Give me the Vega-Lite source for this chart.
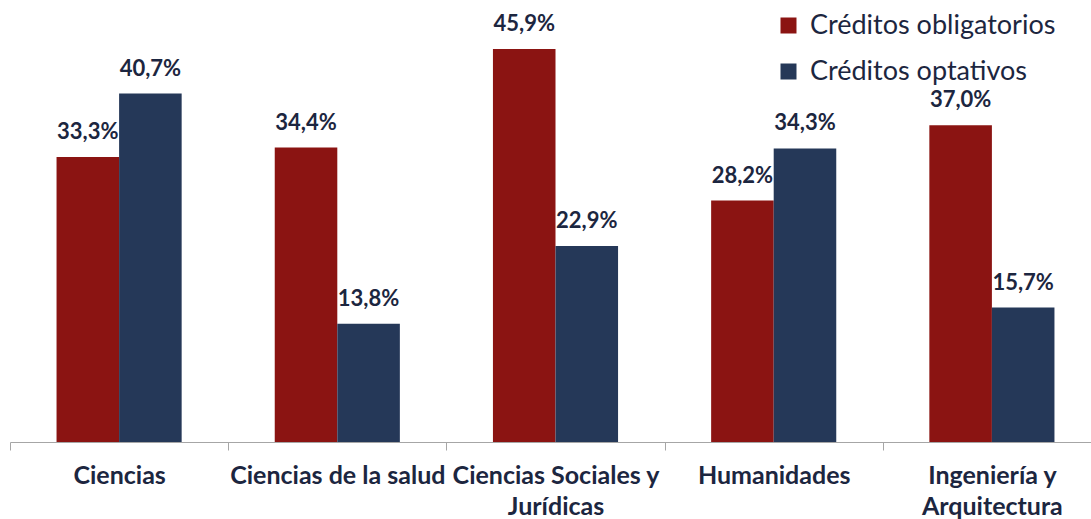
{
  "$schema": "https://vega.github.io/schema/vega-lite/v6.json",
  "width": 1081,
  "height": 428,
  "autosize": "none",
  "padding": {"left": 10, "top": 14, "right": 0, "bottom": 77},
  "background": "white",
  "config": {
    "locale": {"number": {"decimal": ",", "thousands": ".", "grouping": [3], "currency": ["", " €"]}},
    "view": {"stroke": null},
    "font": "Lato"
  },
  "data": {
    "values": [
      {"area": "Ciencias", "tipo": "Créditos obligatorios", "valor": 0.333},
      {"area": "Ciencias", "tipo": "Créditos optativos", "valor": 0.407},
      {"area": "Ciencias de la salud", "tipo": "Créditos obligatorios", "valor": 0.344},
      {"area": "Ciencias de la salud", "tipo": "Créditos optativos", "valor": 0.138},
      {"area": "Ciencias Sociales y Jurídicas", "tipo": "Créditos obligatorios", "valor": 0.459},
      {"area": "Ciencias Sociales y Jurídicas", "tipo": "Créditos optativos", "valor": 0.229},
      {"area": "Humanidades", "tipo": "Créditos obligatorios", "valor": 0.282},
      {"area": "Humanidades", "tipo": "Créditos optativos", "valor": 0.343},
      {"area": "Ingeniería y Arquitectura", "tipo": "Créditos obligatorios", "valor": 0.37},
      {"area": "Ingeniería y Arquitectura", "tipo": "Créditos optativos", "valor": 0.157}
    ]
  },
  "encoding": {
    "x": {
      "field": "area",
      "type": "nominal",
      "sort": null,
      "title": null,
      "scale": {"paddingInner": 0, "paddingOuter": 0, "range": [0, 1091]},
      "axis": {
        "labelAngle": 0,
        "tickBand": "extent",
        "tickSize": 8,
        "tickColor": "#a6a6a6",
        "domainColor": "#a6a6a6",
        "labelFont": "Lato",
        "labelFontSize": 25,
        "labelFontWeight": "bold",
        "labelColor": "#1c2640",
        "labelPadding": 13,
        "labelLineHeight": 31,
        "labelBaseline": "top",
        "labelLimit": 0,
        "labelExpr": "datum.value == 'Ciencias Sociales y Jurídicas' ? ['Ciencias Sociales y', 'Jurídicas'] : datum.value == 'Ingeniería y Arquitectura' ? ['Ingeniería y', 'Arquitectura'] : datum.value"
      }
    },
    "xOffset": {
      "field": "tipo",
      "type": "nominal",
      "scale": {"paddingInner": 0, "paddingOuter": 0.744}
    },
    "y": {
      "field": "valor",
      "type": "quantitative",
      "scale": {"domain": [0, 0.5]},
      "axis": null
    }
  },
  "layer": [
    {
      "mark": {"type": "bar"},
      "encoding": {
        "color": {
          "field": "tipo",
          "type": "nominal",
          "scale": {"domain": ["Créditos obligatorios", "Créditos optativos"], "range": ["#8b1412", "#253858"]},
          "legend": {
            "title": null,
            "orient": "none",
            "legendX": 765,
            "legendY": -2,
            "symbolType": "square",
            "symbolSize": 256,
            "symbolStrokeWidth": 0,
            "labelFont": "Lato",
            "labelFontSize": 27,
            "labelColor": "#1c2640",
            "labelOffset": 8,
            "labelLimit": 0,
            "rowPadding": 18
          }
        }
      }
    },
    {
      "mark": {"type": "text", "baseline": "alphabetic", "dy": -18, "font": "Lato", "fontSize": 22, "fontWeight": "bold", "color": "#1c2640"},
      "encoding": {
        "text": {"field": "valor", "type": "quantitative", "format": ".1%"}
      }
    }
  ]
}
